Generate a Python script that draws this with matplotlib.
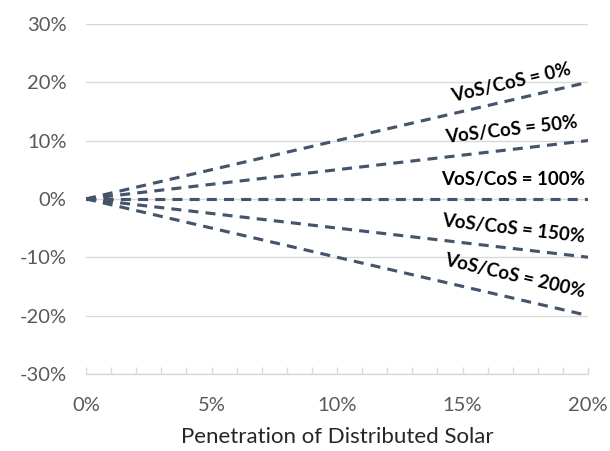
import numpy as np
import matplotlib.pyplot as plt
from matplotlib.ticker import MultipleLocator, FuncFormatter

# Data: penetration of distributed solar (%) and the resulting change for each VoS/CoS ratio
penetration = [0, 20]
labels = ['VoS/CoS = 0%', 'VoS/CoS = 50%', 'VoS/CoS = 100%', 'VoS/CoS = 150%', 'VoS/CoS = 200%']
end_values = [20, 10, 0, -10, -20]

plt.rcParams['font.family'] = ['Lato', 'DejaVu Sans']

fig = plt.figure(figsize=(6.1, 4.51), dpi=100)
ax = fig.add_axes([0.141, 0.171, 0.823, 0.776])

line_color = '#44546A'
for v in end_values:
    ax.plot(penetration, [0, v], color=line_color, lw=2.25,
            linestyle=(0, (3.2, 2.3)))

ax.set_xlim(0, 20)
ax.set_ylim(-30, 30)
ax.yaxis.set_major_locator(MultipleLocator(10))
ax.xaxis.set_major_locator(MultipleLocator(5))
ax.xaxis.set_minor_locator(MultipleLocator(1))
pct = FuncFormatter(lambda x, pos: f'{x:.0f}%')
ax.xaxis.set_major_formatter(pct)
ax.yaxis.set_major_formatter(pct)

ax.grid(axis='y', color='#D9D9D9', lw=1)
ax.set_axisbelow(True)
for s in ['top', 'right', 'left']:
    ax.spines[s].set_visible(False)
ax.spines['bottom'].set_color('#D9D9D9')
ax.spines['bottom'].set_linewidth(1)

ax.tick_params(axis='y', length=0, pad=14, labelsize=14.5, labelcolor='#595959')
ax.tick_params(axis='x', which='both', direction='in', length=5, width=1,
               color='#D9D9D9', labelsize=14.5, labelcolor='#595959', pad=17)
ax.set_xlabel('Penetration of Distributed Solar', fontsize=16, color='#262626',
              labelpad=9)

# Rotated labels along each line
fig.canvas.draw()
offsets = [6, 8, 8, 8, 10]
for v, lab, off in zip(end_values, labels, offsets):
    p0 = ax.transData.transform((0, 0))
    p1 = ax.transData.transform((20, v))
    ang = np.degrees(np.arctan2(p1[1] - p0[1], p1[0] - p0[0]))
    x = 17.0
    ax.annotate(lab, (x, v * x / 20), xytext=(0, off), textcoords='offset points',
                rotation=ang, rotation_mode='anchor', ha='center', va='bottom',
                fontsize=13.5, fontweight='bold', color='black')

fig.savefig('out.png', dpi=100)
